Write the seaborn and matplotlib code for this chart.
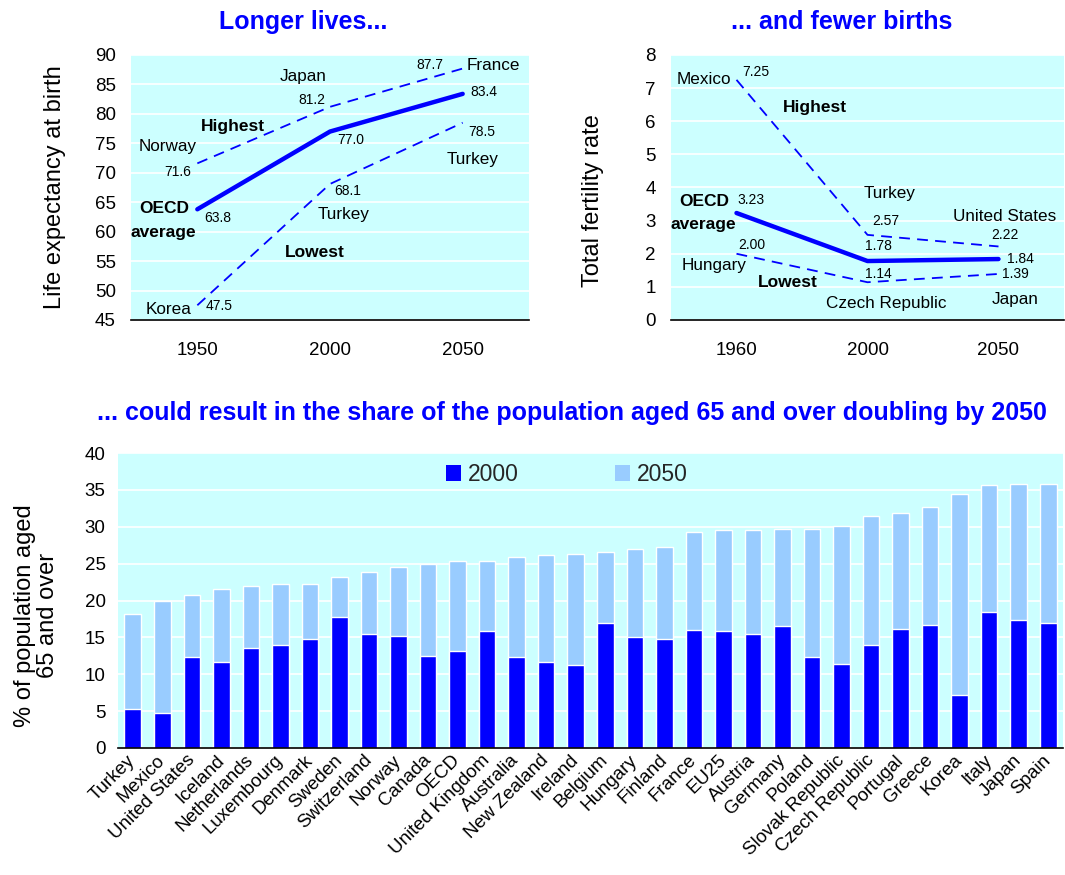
import matplotlib
matplotlib.use("Agg")
import matplotlib.pyplot as plt
from matplotlib.patches import Patch
import seaborn as sns
import pandas as pd

# ---------------- data ----------------
le_years = ["1950", "2000", "2050"]
le_highest = [71.6, 81.2, 87.7]
le_oecd = [63.8, 77.0, 83.4]
le_lowest = [47.5, 68.1, 78.5]

tfr_years = ["1960", "2000", "2050"]
tfr_highest = [7.25, 2.57, 2.22]
tfr_oecd = [3.23, 1.78, 1.84]
tfr_lowest = [2.00, 1.14, 1.39]

countries = ["Turkey", "Mexico", "United States", "Iceland", "Netherlands",
             "Luxembourg", "Denmark", "Sweden", "Switzerland", "Norway",
             "Canada", "OECD", "United Kingdom", "Australia", "New Zealand",
             "Ireland", "Belgium", "Hungary", "Finland", "France", "EU25",
             "Austria", "Germany", "Poland", "Slovak Republic",
             "Czech Republic", "Portugal", "Greece", "Korea", "Italy",
             "Japan", "Spain"]
share_2000 = [5.3, 4.7, 12.3, 11.6, 13.5, 14.0, 14.8, 17.7, 15.4, 15.2,
              12.5, 13.1, 15.9, 12.4, 11.7, 11.2, 16.9, 15.1, 14.8, 16.0,
              15.8, 15.4, 16.6, 12.3, 11.4, 13.9, 16.2, 16.7, 7.2, 18.4,
              17.4, 16.9]
share_2050 = [18.2, 20.0, 20.7, 21.6, 21.9, 22.3, 22.3, 23.2, 23.9, 24.6,
              25.0, 25.4, 25.4, 25.9, 26.2, 26.3, 26.6, 27.0, 27.2, 29.3,
              29.5, 29.5, 29.7, 29.7, 30.1, 31.4, 31.8, 32.7, 34.5, 35.6,
              35.8, 35.8]

# ---------------- style ----------------
sns.set_theme(style="white")
plt.rcParams["font.family"] = ["Liberation Sans", "DejaVu Sans"]

BLUE = "#0000FF"
LIGHT = "#99CCFF"
BG = "#CCFFFF"

W, H = 1065, 875
fig = plt.figure(figsize=(W / 100, H / 100), dpi=100)


def px_axes(left, top, right, bottom):
    return fig.add_axes([left / W, 1 - bottom / H, (right - left) / W, (bottom - top) / H])


def style_top(ax, years, ylim, yticks):
    ax.set_facecolor(BG)
    ax.set_xlim(-0.5, 2.5)
    ax.set_ylim(*ylim)
    ax.set_yticks(yticks)
    ax.set_xticks([0, 1, 2])
    ax.set_xticklabels(years)
    ax.set_xticks([-0.5, 0.5, 1.5, 2.5], minor=True)
    ax.yaxis.grid(True, color="white", lw=1.2)
    ax.set_axisbelow(True)
    for s in ["left", "right", "top"]:
        ax.spines[s].set_visible(False)
    ax.spines["bottom"].set_color("black")
    ax.spines["bottom"].set_linewidth(1.2)
    ax.tick_params(axis="x", which="major", length=0, pad=16, labelsize=13.5, colors="black")
    ax.tick_params(axis="x", which="minor", length=6, direction="in", width=1.2, color="black")
    ax.tick_params(axis="y", length=0, pad=11, labelsize=13.5, colors="black")
    ax.set_xlabel("")


def draw_lines(ax, years, hi, mid, lo):
    sns.lineplot(x=years, y=hi, ax=ax, color=BLUE, lw=1.3, linestyle=(0, (6, 4)), sort=False)
    sns.lineplot(x=years, y=mid, ax=ax, color=BLUE, lw=3.2, sort=False)
    sns.lineplot(x=years, y=lo, ax=ax, color=BLUE, lw=1.3, linestyle=(0, (6, 4)), sort=False)


# ---------------- top-left: life expectancy ----------------
ax1 = px_axes(131, 55, 529, 320)
draw_lines(ax1, le_years, le_highest, le_oecd, le_lowest)
style_top(ax1, le_years, (45, 90), range(45, 91, 5))
ax1.set_ylabel("Life expectancy at birth", fontsize=17, color="black", va="center")
ax1.yaxis.set_label_coords(-0.191, 0.5)

le_val_pos = {"hi": [(-0.146, 70.1), (0.864, 82.4), (1.754, 88.3)],
              "mid": [(0.156, 62.3), (1.158, 75.6), (2.16, 83.7)],
              "lo": [(0.163, 47.4), (1.136, 66.9), (2.146, 76.9)]}
for key, vals in (("hi", le_highest), ("mid", le_oecd), ("lo", le_lowest)):
    for (x, y), v in zip(le_val_pos[key], vals):
        ax1.text(x, y, f"{v:.1f}", fontsize=10, ha="center", va="center", color="black")

le_names = [("Norway", -0.22, 74.4), ("Japan", 0.796, 86.4), ("France", 2.229, 88.3),
            ("Turkey", 2.078, 72.2), ("Turkey", 1.106, 63.0), ("Korea", -0.22, 46.7)]
for t, x, y in le_names:
    ax1.text(x, y, t, fontsize=12.3, ha="center", va="center", color="black")
le_bold = [("Highest", 0.269, 77.9), ("OECD", -0.25, 63.85), ("average", -0.26, 59.8),
           ("Lowest", 0.887, 56.4)]
for t, x, y in le_bold:
    ax1.text(x, y, t, fontsize=12.5, fontweight="bold", ha="center", va="center", color="black")

# ---------------- top-right: fertility ----------------
ax2 = px_axes(671, 55, 1064, 320)
draw_lines(ax2, tfr_years, tfr_highest, tfr_oecd, tfr_lowest)
style_top(ax2, tfr_years, (0, 8), range(0, 9, 1))
ax2.set_ylabel("Total fertility rate", fontsize=17, color="black", va="center")
ax2.yaxis.set_label_coords(-0.198, 0.449)

tfr_val_pos = {"hi": [(0.15, 7.49), (1.14, 2.99), (2.05, 2.57)],
               "mid": [(0.11, 3.62), (1.08, 2.23), (2.17, 1.84)],
               "lo": [(0.12, 2.26), (1.08, 1.39), (2.13, 1.39)]}
for key, vals in (("hi", tfr_highest), ("mid", tfr_oecd), ("lo", tfr_lowest)):
    for (x, y), v in zip(tfr_val_pos[key], vals):
        ax2.text(x, y, f"{v:.2f}", fontsize=10, ha="center", va="center", color="black")

tfr_names = [("Mexico", -0.25, 7.25), ("Turkey", 1.17, 3.83), ("United States", 2.05, 3.11),
             ("Hungary", -0.17, 1.66), ("Czech Republic", 1.14, 0.51), ("Japan", 2.13, 0.63)]
for t, x, y in tfr_names:
    ax2.text(x, y, t, fontsize=12.3, ha="center", va="center", color="black")
tfr_bold = [("Highest", 0.6, 6.40), ("OECD", -0.25, 3.59), ("average", -0.25, 2.87),
            ("Lowest", 0.39, 1.12)]
for t, x, y in tfr_bold:
    ax2.text(x, y, t, fontsize=12.5, fontweight="bold", ha="center", va="center", color="black")

# ---------------- bottom: population aged 65+ ----------------
ax3 = px_axes(118, 453, 1063, 748)
ax3.set_facecolor(BG)
sns.barplot(x=countries, y=share_2050, color=LIGHT, saturation=1, width=0.56, ax=ax3)
sns.barplot(x=countries, y=share_2000, color=BLUE, saturation=1, width=0.56, ax=ax3)
ax3.set_xlim(-0.5, len(countries) - 0.5)
ax3.set_ylim(0, 40)
ax3.set_yticks(range(0, 41, 5))
ax3.yaxis.grid(True, color="white", lw=1.2)
ax3.set_axisbelow(True)
for s in ["left", "right", "top"]:
    ax3.spines[s].set_visible(False)
ax3.spines["bottom"].set_color("black")
ax3.spines["bottom"].set_linewidth(1.2)
ax3.tick_params(axis="y", length=0, pad=9, labelsize=13.5, colors="black")
ax3.tick_params(axis="x", length=0, pad=7, labelsize=13.5, colors="black")
for lab in ax3.get_xticklabels():
    lab.set_rotation(45)
    lab.set_ha("right")
    lab.set_va("center")
    lab.set_rotation_mode("anchor")
ax3.set_ylabel("% of population aged\n65 and over", fontsize=17, color="black",
               linespacing=1.1, ha="center", va="center")
ax3.yaxis.set_label_coords(-0.0862, 0.45)

handles = [Patch(facecolor=BLUE, edgecolor="none", label="2000"),
           Patch(facecolor=LIGHT, edgecolor="none", label="2050")]
ax3.legend(handles=handles, loc="center", bbox_to_anchor=(0.4746, 0.927), ncol=2,
           frameon=False, fontsize=16.5, handlelength=0.65, handleheight=0.65,
           handletextpad=0.3, columnspacing=4.2, borderpad=0)

# ---------------- titles ----------------
fig.text(303.5 / W, 1 - 22 / H, "Longer lives...", fontsize=18, fontweight="bold",
         color=BLUE, ha="center", va="center")
fig.text(842 / W, 1 - 22 / H, "... and fewer births", fontsize=18, fontweight="bold",
         color=BLUE, ha="center", va="center")
fig.text(572 / W, 1 - 413 / H,
         "... could result in the share of the population aged 65 and over doubling by 2050",
         fontsize=18, fontweight="bold", color=BLUE, ha="center", va="center")

fig.savefig("out.png", dpi=100, facecolor="white")
